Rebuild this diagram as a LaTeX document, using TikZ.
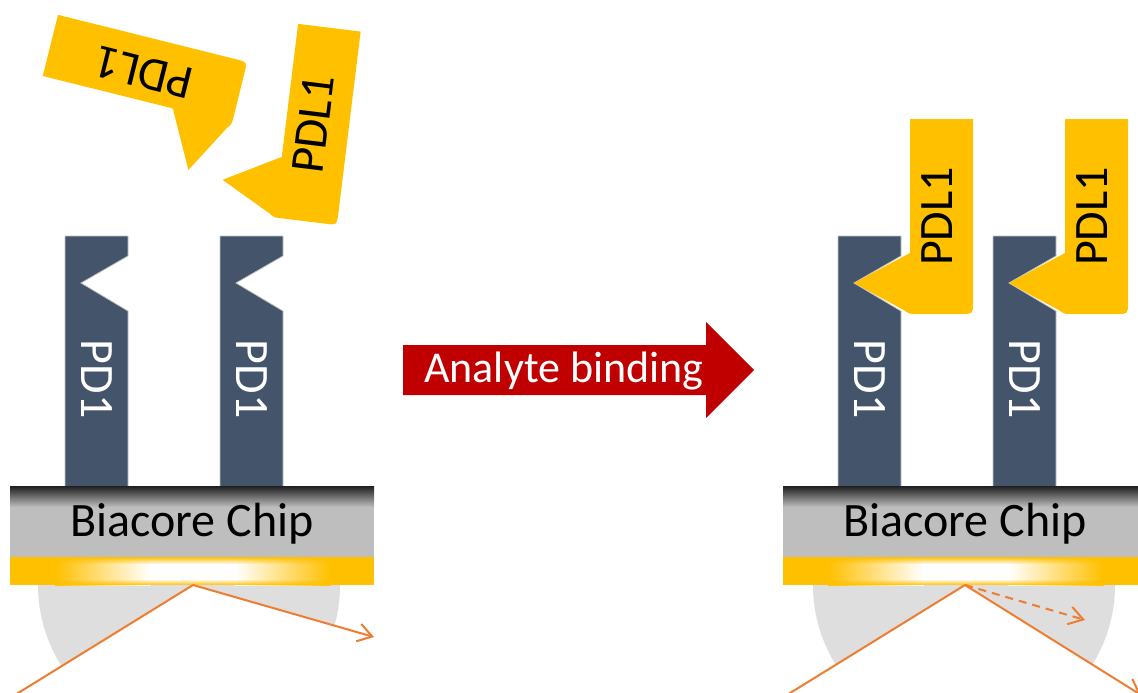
\documentclass[tikz,border=0pt]{standalone}
\usepackage{fontspec}
\setmainfont{Carlito}
\usetikzlibrary{arrows.meta,fadings,calc}

\definecolor{pdone}{HTML}{44546A}
\definecolor{gold}{HTML}{FFC000}
\definecolor{chipgray}{HTML}{BEBEBE}
\definecolor{prism}{HTML}{DEDEDE}
\definecolor{ray}{HTML}{ED7D31}
\definecolor{arrowred}{HTML}{C00000}

\tikzfading[name=fadedown, top color=transparent!0, bottom color=transparent!100]
\tikzfading[name=fadeup, top color=transparent!100, bottom color=transparent!0]

\tikzset{
  big/.style={font=\fontsize{48}{48}\selectfont, inner sep=0pt},
  pdlabel/.style={big, text=white, rotate=-90},
  pdllabel/.style={big, text=black},
  raypath/.style={draw=ray, line width=2pt},
  rayhead/.style={-{Straight Barb[length=14pt,width=18pt]}},
  % receptor column with its binding notch on the right side
  pdcol/.pic={
    \fill[pdone, draw=gray!45, line width=0.8pt]
      (0,0) -- (63,0) -- (63,20) -- (16,47) -- (63,75) -- (63,251) -- (0,251) -- cycle;
    \node[pdlabel] (-txt) at (31.5,143) {PD1};
  },
  % ligand block, centred on its rectangle; #1 = angle of its label
  pdlone/.pic={
    \fill[gold] (-31.5,-97.5) -- (31.5,-97.5) -- (31.5,86)
      .. controls (31.5,97.5) .. (20,97.5) -- (-25,97.5)
      .. controls (-32,97.5) .. (-37,94) -- (-87.5,66.5) -- (-31.5,36.5) -- cycle;
    \node[pdllabel, rotate=#1] (-txt) at (-4,0) {PDL1};
  },
  % sensor chip: grey body, dark top edge, gold film at the bottom
  chip/.pic={
    \fill[chipgray] (0,0) rectangle (364,71);
    \shade[top color=black!88, bottom color=chipgray] (0,0) rectangle (364,21);
    \fill[gold] (0,71) rectangle (45.5,99);
    \shade[left color=gold, right color=white] (45,71) rectangle (140.5,99);
    \fill[white] (140,71) rectangle (225.5,99);
    \shade[left color=white, right color=gold] (225,71) rectangle (320.5,99);
    \fill[gold] (320,71) rectangle (364,99);
    \fill[gold, path fading=fadedown] (0,71) rectangle (364,78);
    \fill[gold, path fading=fadeup] (0,93) rectangle (364,99);
    \node[big, text=black] (-txt) at (182,38) {Biacore Chip};
  },
}

\begin{document}
\begin{tikzpicture}[x=1pt, y=-1pt]
\useasboundingbox (0,0) rectangle (1138,693);

% light paths: entry, reflection point, exit
\coordinate (lV) at (193,585);
\coordinate (lIn) at (10,698);
\coordinate (lOut) at (374,637);
\coordinate (rV) at (965,585);
\coordinate (rIn) at (782,698);
\coordinate (rOut) at (1141,695);
\coordinate (rDash) at (1085,620);

% prisms below the chips, open between the incoming and outgoing beams
\fill[prism] (340,585) arc[start angle=0, end angle=180, radius=151] -- cycle;
\fill[prism] (1115,585) arc[start angle=0, end angle=180, radius=151] -- cycle;
\fill[white] (lV) -- ($(lV)!3!(lIn)$) -- ($(lV)!3!(lOut)$) -- cycle;
\fill[white] (rV) -- ($(rV)!3!(rIn)$) -- ($(rV)!3!(rOut)$) -- cycle;

% immobilised PD1 columns
\pic (pdA) at (65,236) {pdcol};
\pic (pdB) at (220,236) {pdcol};
\pic (pdC) at (838,236) {pdcol};
\pic (pdD) at (993,236) {pdcol};

% chips
\pic (chipL) at (10,486) {chip};
\pic (chipR) at (783,486) {chip};

% beams
\draw[raypath] (lIn) -- (lV);
\draw[raypath, rayhead] (lV) -- (lOut);
\draw[raypath] (rIn) -- (rV);
\draw[raypath, rayhead] (rV) -- (rOut);
\draw[raypath, rayhead, dash pattern=on 8pt off 6pt] (rV) -- (rDash);

% free PDL1 in solution
\pic (pdlA) [rotate=76] at (145,69) {pdlone=166};
\pic (pdlB) [rotate=-7] at (317.5,124.5) {pdlone=83};

% bound PDL1
\pic (pdlC) at (941.5,216.5) {pdlone=90};
\pic (pdlD) at (1096.5,216.5) {pdlone=90};

% process arrow
\fill[arrowred] (403,345) -- (706,345) -- (706,322) -- (754,370)
  -- (706,418) -- (706,395) -- (403,395) -- cycle;
\node[font=\fontsize{44}{44}\selectfont, text=white, inner sep=0pt] (analyte) at (564,371) {Analyte binding};
\end{tikzpicture}
\end{document}
